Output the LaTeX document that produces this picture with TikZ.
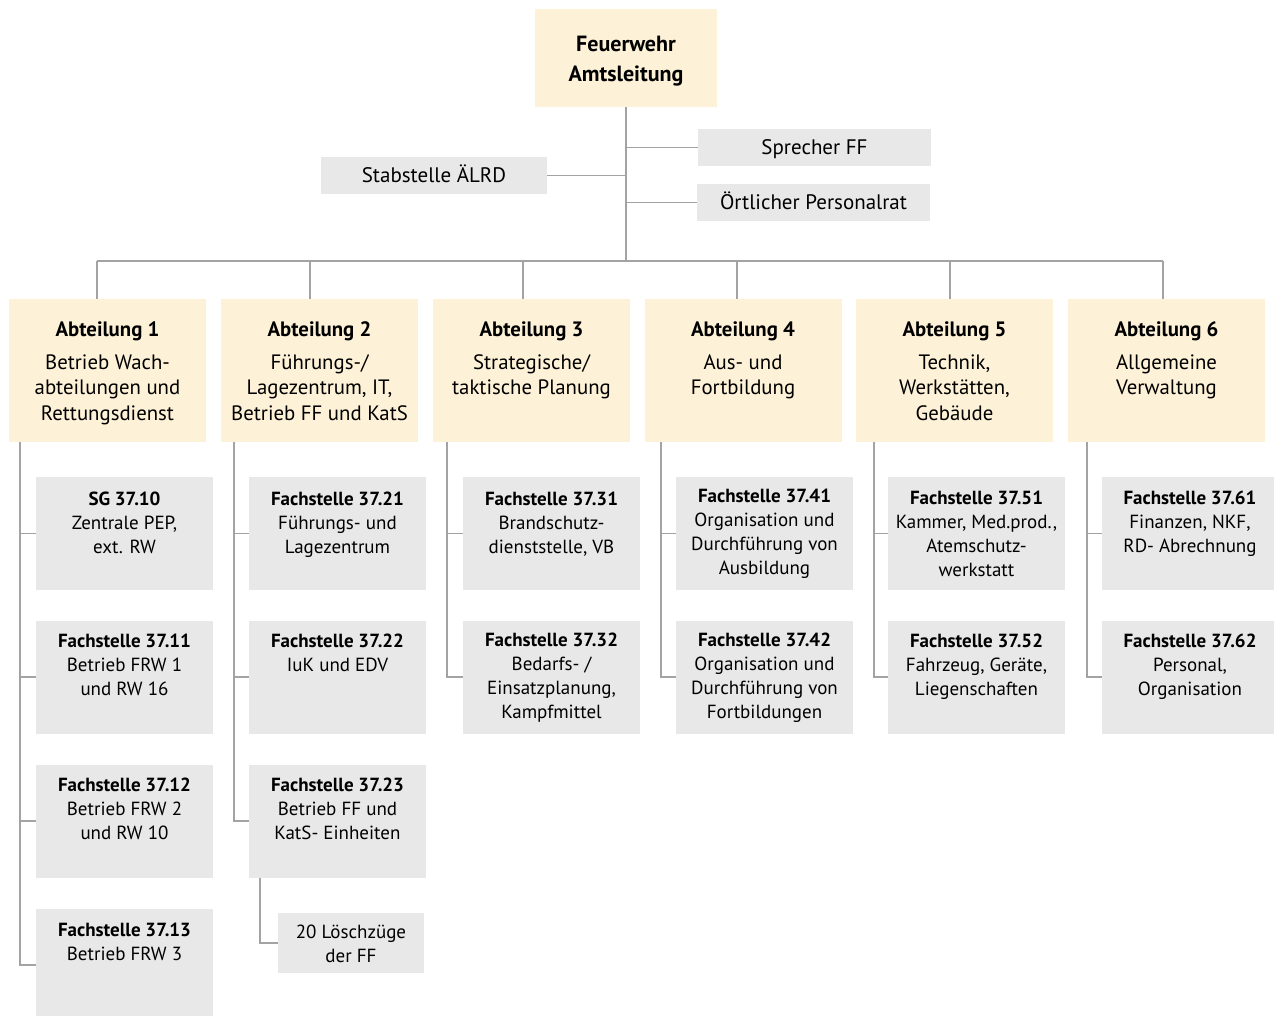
\documentclass[tikz,border=0pt]{standalone}
\usepackage{fontspec}
\setmainfont{PT Sans}
\definecolor{cream}{HTML}{FDF1D7}
\definecolor{boxgray}{HTML}{E8E8E8}
\definecolor{linegray}{HTML}{A3A3A3}
\newcommand{\ml}[1]{\begin{tabular}[t]{@{}c@{}}#1\end{tabular}}
\tikzset{
  abt/.style={fill=cream, draw=none, inner sep=0pt, minimum width=197pt, minimum height=143pt},
  topbox/.style={fill=cream, draw=none, inner sep=0pt, minimum width=182pt, minimum height=98pt},
  sidebox/.style={fill=boxgray, draw=none, inner sep=0pt, minimum height=37pt},
  child/.style={fill=boxgray, draw=none, inner sep=0pt, minimum width=177pt, minimum height=113pt},
  abttext/.style={anchor=base, inner sep=0pt, font=\fontsize{20.8}{25.5}\selectfont},
  childtext/.style={anchor=base, inner sep=0pt, font=\fontsize{19}{24}\selectfont},
  sidetext/.style={font=\fontsize{21}{24}\selectfont, text height=14.7pt, text depth=0pt},
  conn/.style={draw=linegray, line width=1.4pt}
}
\begin{document}
\begin{tikzpicture}[x=1pt,y=-1pt]
\useasboundingbox (0,0) rectangle (1274,1016);
% top
\node[topbox] (top) at (626,58) {};
\node[anchor=base, inner sep=0pt, font=\fontsize{22}{30}\selectfont\bfseries] (toptxt) at (626,52) {\ml{Feuerwehr\\Amtsleitung}};
\node[sidebox, minimum width=233pt, sidetext] (spr) at (814.5,147.5) {Sprecher FF};
\node[sidebox, minimum width=233pt, sidetext] (opr) at (813.5,202.5) {Örtlicher Personalrat};
\node[sidebox, minimum width=226pt, sidetext] (stab) at (434,175.5) {Stabstelle ÄLRD};
\coordinate (bus) at (626,261);
\draw[conn] (top.south) -- (bus);
\draw[conn] (top.south) |- (spr.west);
\draw[conn] (top.south) |- (opr.west);
\draw[conn] (top.south) |- (stab.east);
% Abteilungen
\node[abt] (a1) at (107.5,370.5) {};
\node[abt] (a2) at (319.5,370.5) {};
\node[abt] (a3) at (531.5,370.5) {};
\node[abt] (a4) at (743,370.5) {};
\node[abt] (a5) at (954.5,370.5) {};
\node[abt] (a6) at (1166.5,370.5) {};
\node[abttext] (a1t) at (107.5,336) {\ml{\textbf{Abteilung 1}\\[7.5pt]Betrieb Wach-\\abteilungen und\\Rettungsdienst}};
\node[abttext] (a2t) at (319.5,336) {\ml{\textbf{Abteilung 2}\\[7.5pt]Führungs-/\\Lagezentrum, IT,\\Betrieb FF und KatS}};
\node[abttext] (a3t) at (531.5,336) {\ml{\textbf{Abteilung 3}\\[7.5pt]Strategische/\\taktische Planung}};
\node[abttext] (a4t) at (743,336) {\ml{\textbf{Abteilung 4}\\[7.5pt]Aus- und\\Fortbildung}};
\node[abttext] (a5t) at (954.5,336) {\ml{\textbf{Abteilung 5}\\[7.5pt]Technik,\\Werkstätten,\\Gebäude}};
\node[abttext] (a6t) at (1166.5,336) {\ml{\textbf{Abteilung 6}\\[7.5pt]Allgemeine\\Verwaltung}};
\coordinate (d1) at (97,261);
\coordinate (d2) at (310,261);
\coordinate (d3) at (523,261);
\coordinate (d4) at (737,261);
\coordinate (d5) at (950,261);
\coordinate (d6) at (1163,261);
\draw[conn] (d1) -- (d6);
\foreach \i in {1,...,6}{\draw[conn] (d\i) -- (d\i |- a\i.north);}
% children boxes
\node[child] (c11) at (124.5,533.5) {};
\node[child] (c12) at (124.5,677) {};
\node[child] (c13) at (124.5,821) {};
\node[child] (c14) at (124.5,965) {};
\node[child] (c21) at (337.5,533.5) {};
\node[child] (c22) at (337.5,677) {};
\node[child] (c23) at (337.5,821) {};
\node[child] (c31) at (551.5,533.5) {};
\node[child] (c32) at (551.5,677) {};
\node[child] (c41) at (764.5,533.5) {};
\node[child] (c42) at (764.5,677) {};
\node[child] (c51) at (976.5,533.5) {};
\node[child] (c52) at (976.5,677) {};
\node[child] (c61) at (1190.5,533.5) {};
\node[child] (c62) at (1190.5,677) {};
\node[fill=boxgray, inner sep=0pt, minimum width=146pt, minimum height=60pt] (lz) at (351,943) {};
% children texts
\node[childtext] (c11t) at (124.5,505) {\ml{\textbf{SG 37.10}\\Zentrale PEP,\\ext. RW}};
\node[childtext] (c12t) at (124.5,647) {\ml{\textbf{Fachstelle 37.11}\\Betrieb FRW 1\\und RW 16}};
\node[childtext] (c13t) at (124.5,791) {\ml{\textbf{Fachstelle 37.12}\\Betrieb FRW 2\\und RW 10}};
\node[childtext] (c14t) at (124.5,936) {\ml{\textbf{Fachstelle 37.13}\\Betrieb FRW 3}};
\node[childtext] (c21t) at (337.5,505) {\ml{\textbf{Fachstelle 37.21}\\Führungs- und\\Lagezentrum}};
\node[childtext] (c22t) at (337.5,647) {\ml{\textbf{Fachstelle 37.22}\\IuK und EDV}};
\node[childtext] (c23t) at (337.5,791) {\ml{\textbf{Fachstelle 37.23}\\Betrieb FF und\\KatS- Einheiten}};
\node[childtext] (c31t) at (551.5,505) {\ml{\textbf{Fachstelle 37.31}\\Brandschutz-\\dienststelle, VB}};
\node[childtext] (c32t) at (551.5,646) {\ml{\textbf{Fachstelle 37.32}\\Bedarfs- /\\Einsatzplanung,\\Kampfmittel}};
\node[childtext] (c41t) at (764.5,502) {\ml{\textbf{Fachstelle 37.41}\\Organisation und\\Durchführung von\\Ausbildung}};
\node[childtext] (c42t) at (764.5,646) {\ml{\textbf{Fachstelle 37.42}\\Organisation und\\Durchführung von\\Fortbildungen}};
\node[childtext] (c51t) at (976.5,504) {\ml{\textbf{Fachstelle 37.51}\\Kammer, Med.prod.,\\Atemschutz-\\werkstatt}};
\node[childtext] (c52t) at (976.5,647) {\ml{\textbf{Fachstelle 37.52}\\Fahrzeug, Geräte,\\Liegenschaften}};
\node[childtext] (c61t) at (1190,504) {\ml{\textbf{Fachstelle 37.61}\\Finanzen, NKF,\\RD- Abrechnung}};
\node[childtext] (c62t) at (1190,647) {\ml{\textbf{Fachstelle 37.62}\\Personal,\\Organisation}};
\node[childtext] (lzt) at (351,938) {\ml{20 Löschzüge\\der FF}};
% vertical connectors
\coordinate (v1) at (20,442);
\coordinate (v2) at (234,442);
\coordinate (v3) at (447,442);
\coordinate (v4) at (661,442);
\coordinate (v5) at (874,442);
\coordinate (v6) at (1087,442);
\foreach \c in {c11,c12,c13,c14}{\draw[conn] (v1) |- (\c.west);}
\foreach \c in {c21,c22,c23}{\draw[conn] (v2) |- (\c.west);}
\foreach \c in {c31,c32}{\draw[conn] (v3) |- (\c.west);}
\foreach \c in {c41,c42}{\draw[conn] (v4) |- (\c.west);}
\foreach \c in {c51,c52}{\draw[conn] (v5) |- (\c.west);}
\foreach \c in {c61,c62}{\draw[conn] (v6) |- (\c.west);}
\coordinate (l0) at (260,877.5);
\draw[conn] (l0) |- (lz.west);
\end{tikzpicture}
\end{document}
